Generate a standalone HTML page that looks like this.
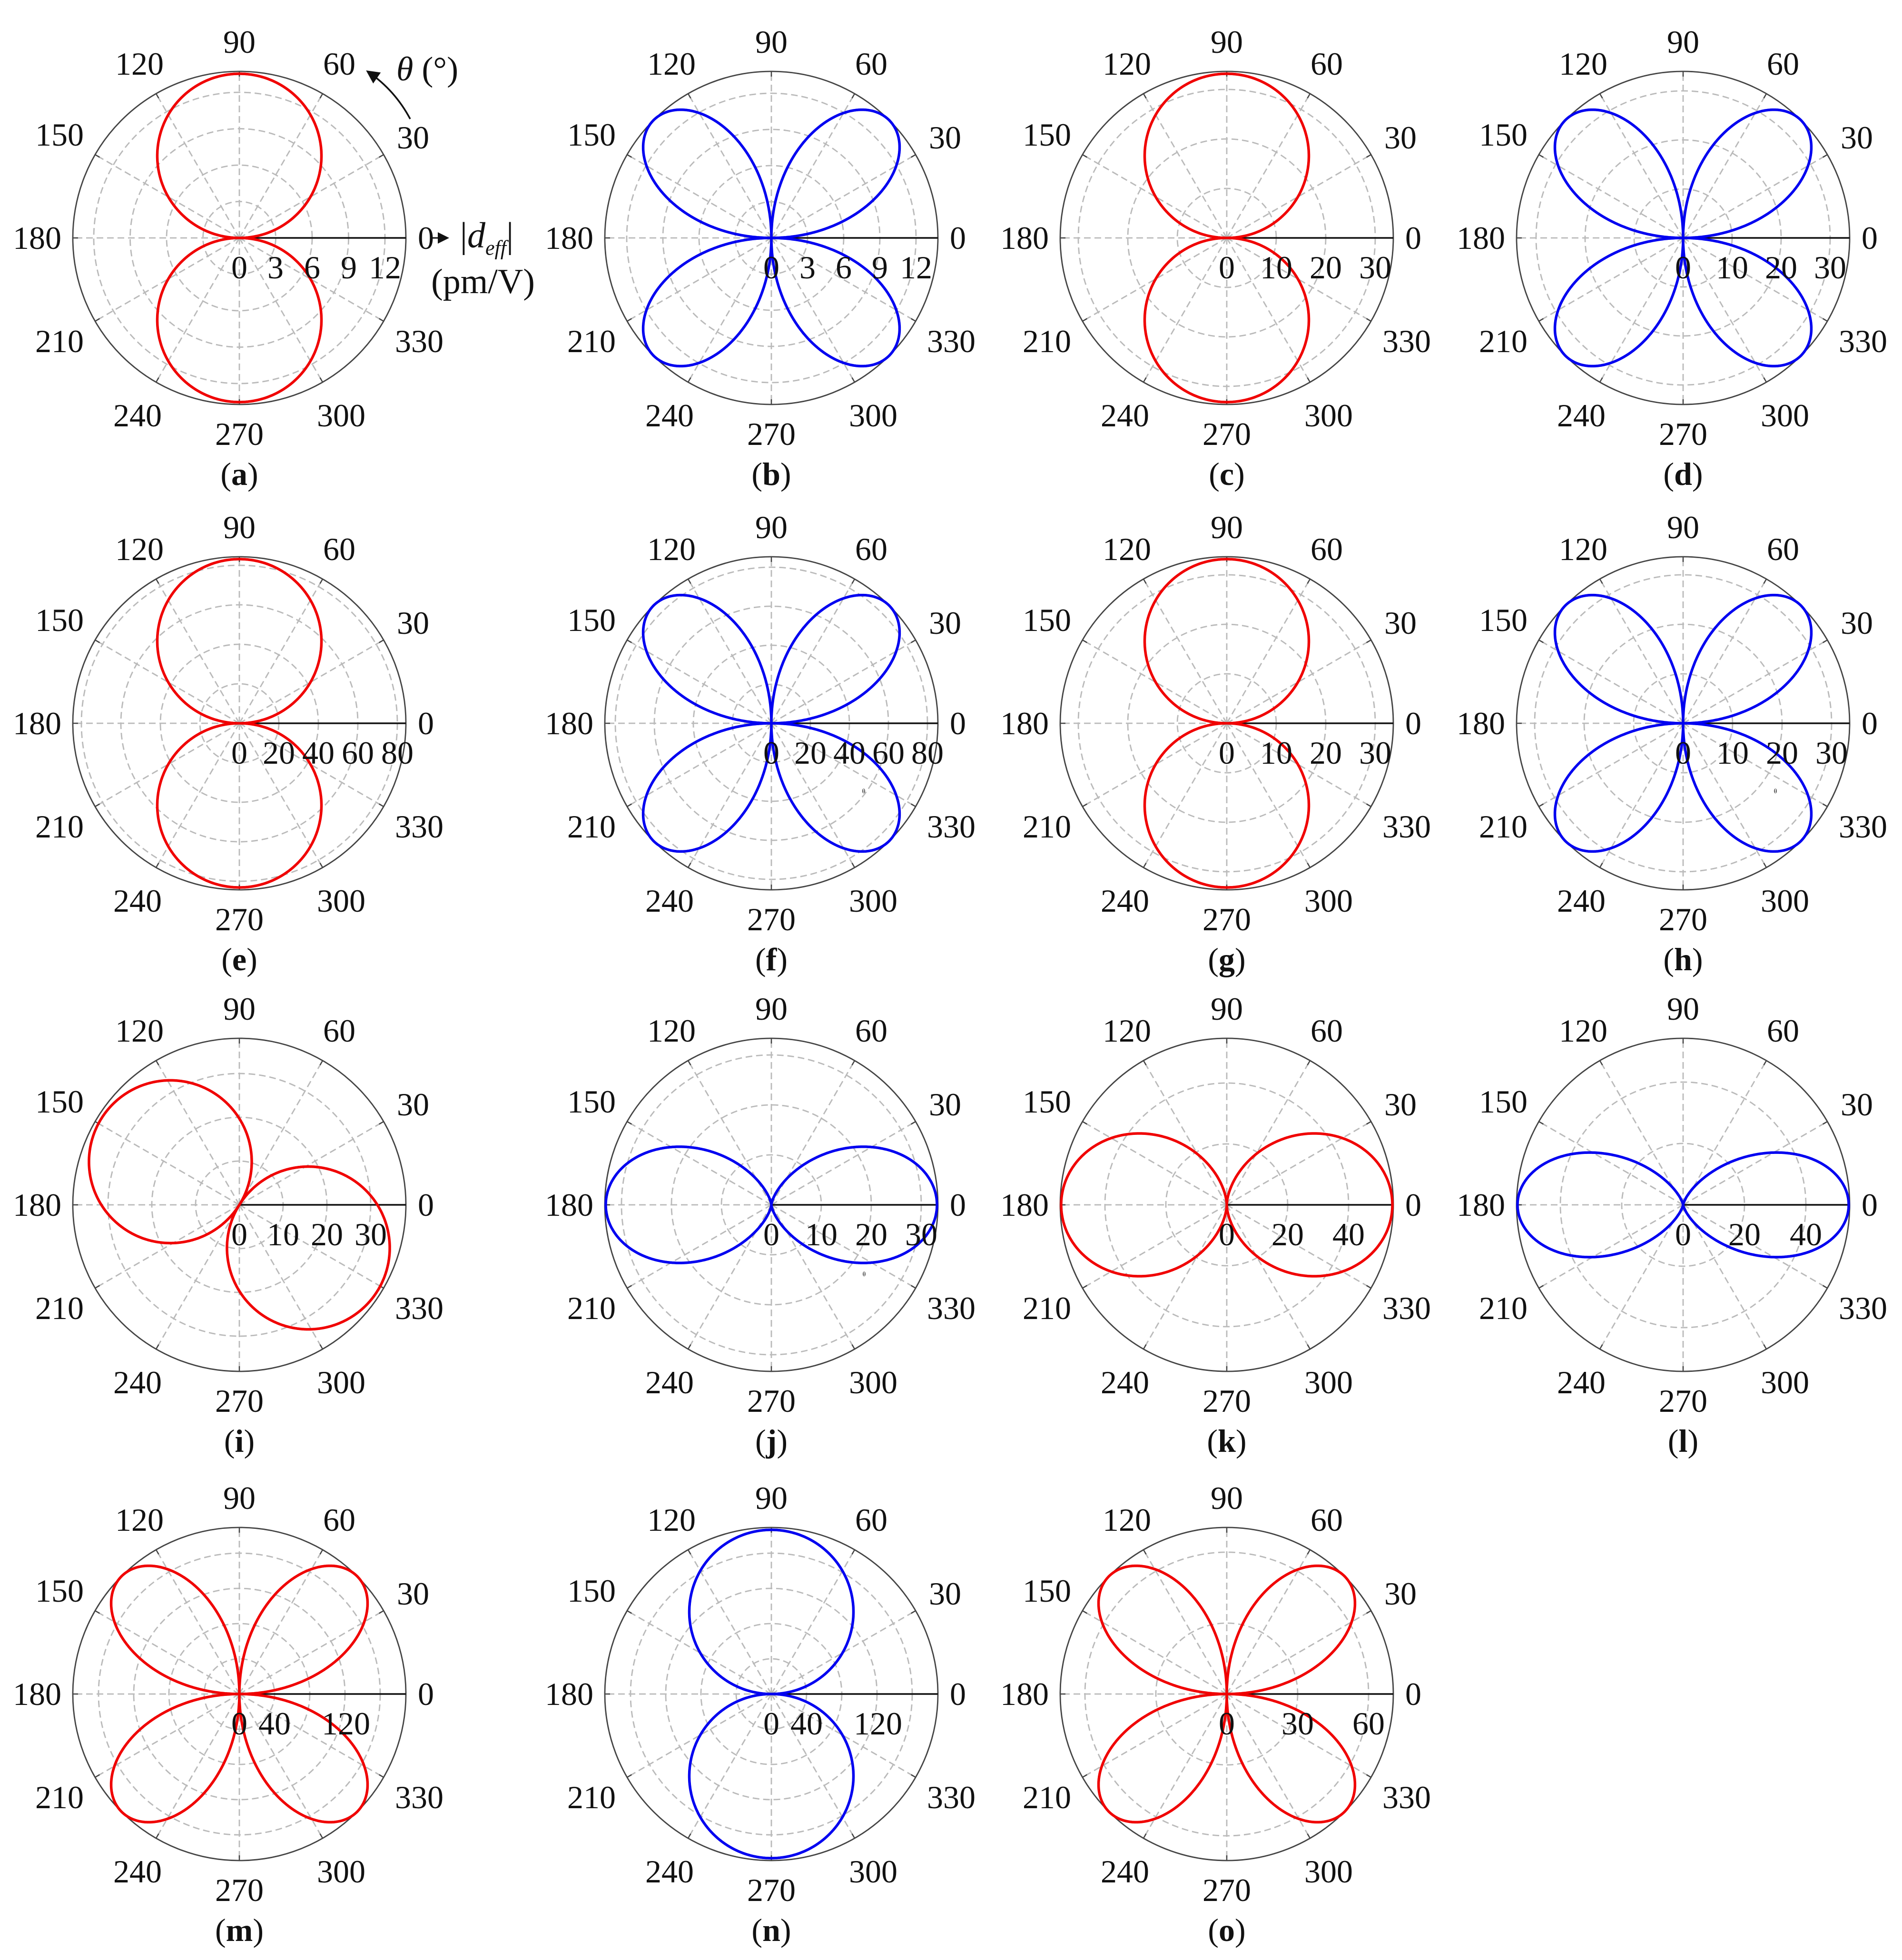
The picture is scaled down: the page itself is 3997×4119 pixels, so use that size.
<!DOCTYPE html>
<html><head><meta charset="utf-8">
<style>
html,body{margin:0;padding:0;background:#fff;}
body{width:3997px;height:4119px;position:relative;overflow:hidden;font-family:"Liberation Serif",serif;color:#111;}
svg{position:absolute;left:0;top:0;}
.p{position:absolute;width:0;height:0;font-size:68px;}
.p span{position:absolute;transform:translate(-50%,-50%);white-space:nowrap;line-height:1;}
.a0{left:392px;top:0}
.a30{left:365px;top:-211px}
.a60{left:210px;top:-366px}
.a90{left:0;top:-412px}
.a120{left:-210px;top:-366px}
.a150{left:-378px;top:-217px}
.a180{left:-425px;top:0}
.a210{left:-378px;top:217px}
.a240{left:-214px;top:373px}
.a270{left:0;top:412px}
.a300{left:214px;top:373px}
.a330{left:378px;top:217px}
.p span.t{top:62px}
.p span.lb{left:0;top:496px}
.p span.sm{font-size:14px}
</style></head><body>
<svg id="s" width="3997" height="4119" viewBox="0 0 3997 4119"></svg>

<!-- (a) -->
<div class="p" style="left:503px;top:500px">
<span class="a0">0</span><span class="a30">30</span><span class="a60">60</span><span class="a90">90</span><span class="a120">120</span><span class="a150">150</span><span class="a180">180</span><span class="a210">210</span><span class="a240">240</span><span class="a270">270</span><span class="a300">300</span><span class="a330">330</span>
<span class="t" style="left:0">0</span><span class="t" style="left:76px">3</span><span class="t" style="left:153px">6</span><span class="t" style="left:230px">9</span><span class="t" style="left:306px">12</span>
<span class="lb">(<b>a</b>)</span>
<span style="left:520px;top:0;font-size:76px">|<i>d<sub style="font-size:44px">eff</sub></i>|</span>
<span style="left:512px;top:92px;font-size:74px">(pm/V)</span>
<span style="left:395px;top:-355px;font-size:72px"><i>θ</i> (°)</span>
</div>
<!-- (b) -->
<div class="p" style="left:1621px;top:500px">
<span class="a0">0</span><span class="a30">30</span><span class="a60">60</span><span class="a90">90</span><span class="a120">120</span><span class="a150">150</span><span class="a180">180</span><span class="a210">210</span><span class="a240">240</span><span class="a270">270</span><span class="a300">300</span><span class="a330">330</span>
<span class="t" style="left:0">0</span><span class="t" style="left:76px">3</span><span class="t" style="left:152px">6</span><span class="t" style="left:228px">9</span><span class="t" style="left:304px">12</span>
<span class="lb">(<b>b</b>)</span>
</div>
<!-- (c) -->
<div class="p" style="left:2578px;top:500px">
<span class="a0">0</span><span class="a30">30</span><span class="a60">60</span><span class="a90">90</span><span class="a120">120</span><span class="a150">150</span><span class="a180">180</span><span class="a210">210</span><span class="a240">240</span><span class="a270">270</span><span class="a300">300</span><span class="a330">330</span>
<span class="t" style="left:0">0</span><span class="t" style="left:104px">10</span><span class="t" style="left:208px">20</span><span class="t" style="left:312px">30</span>
<span class="lb">(<b>c</b>)</span>
</div>
<!-- (d) -->
<div class="p" style="left:3537px;top:500px">
<span class="a0">0</span><span class="a30">30</span><span class="a60">60</span><span class="a90">90</span><span class="a120">120</span><span class="a150">150</span><span class="a180">180</span><span class="a210">210</span><span class="a240">240</span><span class="a270">270</span><span class="a300">300</span><span class="a330">330</span>
<span class="t" style="left:0">0</span><span class="t" style="left:103px">10</span><span class="t" style="left:206px">20</span><span class="t" style="left:309px">30</span>
<span class="lb">(<b>d</b>)</span>
</div>
<!-- (e) -->
<div class="p" style="left:503px;top:1520px">
<span class="a0">0</span><span class="a30">30</span><span class="a60">60</span><span class="a90">90</span><span class="a120">120</span><span class="a150">150</span><span class="a180">180</span><span class="a210">210</span><span class="a240">240</span><span class="a270">270</span><span class="a300">300</span><span class="a330">330</span>
<span class="t" style="left:0">0</span><span class="t" style="left:83px">20</span><span class="t" style="left:166px">40</span><span class="t" style="left:249px">60</span><span class="t" style="left:332px">80</span>
<span class="lb">(<b>e</b>)</span>
</div>
<!-- (f) -->
<div class="p" style="left:1621px;top:1520px">
<span class="a0">0</span><span class="a30">30</span><span class="a60">60</span><span class="a90">90</span><span class="a120">120</span><span class="a150">150</span><span class="a180">180</span><span class="a210">210</span><span class="a240">240</span><span class="a270">270</span><span class="a300">300</span><span class="a330">330</span>
<span class="t" style="left:0">0</span><span class="t" style="left:82px">20</span><span class="t" style="left:164px">40</span><span class="t" style="left:246px">60</span><span class="t" style="left:328px">80</span>
<span class="sm" style="left:194px;top:144px">θ</span>
<span class="lb">(<b>f</b>)</span>
</div>
<!-- (g) -->
<div class="p" style="left:2578px;top:1520px">
<span class="a0">0</span><span class="a30">30</span><span class="a60">60</span><span class="a90">90</span><span class="a120">120</span><span class="a150">150</span><span class="a180">180</span><span class="a210">210</span><span class="a240">240</span><span class="a270">270</span><span class="a300">300</span><span class="a330">330</span>
<span class="t" style="left:0">0</span><span class="t" style="left:104px">10</span><span class="t" style="left:208px">20</span><span class="t" style="left:312px">30</span>
<span class="lb">(<b>g</b>)</span>
</div>
<!-- (h) -->
<div class="p" style="left:3537px;top:1520px">
<span class="a0">0</span><span class="a30">30</span><span class="a60">60</span><span class="a90">90</span><span class="a120">120</span><span class="a150">150</span><span class="a180">180</span><span class="a210">210</span><span class="a240">240</span><span class="a270">270</span><span class="a300">300</span><span class="a330">330</span>
<span class="t" style="left:0">0</span><span class="t" style="left:104px">10</span><span class="t" style="left:208px">20</span><span class="t" style="left:312px">30</span>
<span class="sm" style="left:194px;top:144px">θ</span>
<span class="lb">(<b>h</b>)</span>
</div>
<!-- (i) -->
<div class="p" style="left:503px;top:2532px">
<span class="a0">0</span><span class="a30">30</span><span class="a60">60</span><span class="a90">90</span><span class="a120">120</span><span class="a150">150</span><span class="a180">180</span><span class="a210">210</span><span class="a240">240</span><span class="a270">270</span><span class="a300">300</span><span class="a330">330</span>
<span class="t" style="left:0">0</span><span class="t" style="left:92px">10</span><span class="t" style="left:184px">20</span><span class="t" style="left:276px">30</span>
<span class="lb">(<b>i</b>)</span>
</div>
<!-- (j) -->
<div class="p" style="left:1621px;top:2532px">
<span class="a0">0</span><span class="a30">30</span><span class="a60">60</span><span class="a90">90</span><span class="a120">120</span><span class="a150">150</span><span class="a180">180</span><span class="a210">210</span><span class="a240">240</span><span class="a270">270</span><span class="a300">300</span><span class="a330">330</span>
<span class="t" style="left:0">0</span><span class="t" style="left:105px">10</span><span class="t" style="left:210px">20</span><span class="t" style="left:315px">30</span>
<span class="sm" style="left:195px;top:147px">θ</span>
<span class="lb">(<b>j</b>)</span>
</div>
<!-- (k) -->
<div class="p" style="left:2578px;top:2532px">
<span class="a0">0</span><span class="a30">30</span><span class="a60">60</span><span class="a90">90</span><span class="a120">120</span><span class="a150">150</span><span class="a180">180</span><span class="a210">210</span><span class="a240">240</span><span class="a270">270</span><span class="a300">300</span><span class="a330">330</span>
<span class="t" style="left:0">0</span><span class="t" style="left:128px">20</span><span class="t" style="left:256px">40</span>
<span class="lb">(<b>k</b>)</span>
</div>
<!-- (l) -->
<div class="p" style="left:3537px;top:2532px">
<span class="a0">0</span><span class="a30">30</span><span class="a60">60</span><span class="a90">90</span><span class="a120">120</span><span class="a150">150</span><span class="a180">180</span><span class="a210">210</span><span class="a240">240</span><span class="a270">270</span><span class="a300">300</span><span class="a330">330</span>
<span class="t" style="left:0">0</span><span class="t" style="left:129px">20</span><span class="t" style="left:258px">40</span>
<span class="lb">(<b>l</b>)</span>
</div>
<!-- (m) -->
<div class="p" style="left:503px;top:3560px">
<span class="a0">0</span><span class="a30">30</span><span class="a60">60</span><span class="a90">90</span><span class="a120">120</span><span class="a150">150</span><span class="a180">180</span><span class="a210">210</span><span class="a240">240</span><span class="a270">270</span><span class="a300">300</span><span class="a330">330</span>
<span class="t" style="left:0">0</span><span class="t" style="left:74px">40</span><span class="t" style="left:224px">120</span>
<span class="lb">(<b>m</b>)</span>
</div>
<!-- (n) -->
<div class="p" style="left:1621px;top:3560px">
<span class="a0">0</span><span class="a30">30</span><span class="a60">60</span><span class="a90">90</span><span class="a120">120</span><span class="a150">150</span><span class="a180">180</span><span class="a210">210</span><span class="a240">240</span><span class="a270">270</span><span class="a300">300</span><span class="a330">330</span>
<span class="t" style="left:0">0</span><span class="t" style="left:74px">40</span><span class="t" style="left:224px">120</span>
<span class="lb">(<b>n</b>)</span>
</div>
<!-- (o) -->
<div class="p" style="left:2578px;top:3560px">
<span class="a0">0</span><span class="a30">30</span><span class="a60">60</span><span class="a90">90</span><span class="a120">120</span><span class="a150">150</span><span class="a180">180</span><span class="a210">210</span><span class="a240">240</span><span class="a270">270</span><span class="a300">300</span><span class="a330">330</span>
<span class="t" style="left:0">0</span><span class="t" style="left:149px">30</span><span class="t" style="left:298px">60</span>
<span class="lb">(<b>o</b>)</span>
</div>

<script>
(function(){
var R=350, RED="#f00000", BLUE="#0000f0";
var plots=[
[503,500,76.5,'s1',RED],[1621,500,76,'s2',BLUE],[2578,500,104,'s1',RED],[3537,500,103,'s2',BLUE],
[503,1520,83,'s1',RED],[1621,1520,82,'s2',BLUE],[2578,1520,104,'s1',RED],[3537,1520,104,'s2',BLUE],
[503,2532,92,'ci',RED],[1621,2532,105,'c2.5',BLUE],[2578,2532,128,'c1.5',RED],[3537,2532,129,'c3.2',BLUE],
[503,3560,74,'s2',RED],[1621,3560,74,'s1',BLUE],[2578,3560,149,'s2',RED]
];
var out=[];
out.push('<defs><marker id="ah" markerWidth="8" markerHeight="8" refX="6" refY="4" orient="auto" markerUnits="strokeWidth"><path d="M0,0 L8,4 L0,8 z" fill="#111"/></marker></defs>');
plots.forEach(function(p){
  var cx=p[0],cy=p[1],st=p[2],ty=p[3],col=p[4];
  var g='';
  for(var r=st;r<R-8;r+=st){
    g+='<circle cx="'+cx+'" cy="'+cy+'" r="'+r.toFixed(1)+'" fill="none" stroke="#bababa" stroke-width="2.8" stroke-dasharray="14 8"/>';
  }
  for(var a=0;a<360;a+=30){
    var t=a*Math.PI/180, c=Math.cos(t), s=Math.sin(t);
    if(a!==0) g+='<line x1="'+cx+'" y1="'+cy+'" x2="'+(cx+R*c).toFixed(1)+'" y2="'+(cy-R*s).toFixed(1)+'" stroke="#bababa" stroke-width="2.8" stroke-dasharray="14 8"/>';
    g+='<line x1="'+(cx+(R-11)*c).toFixed(1)+'" y1="'+(cy-(R-11)*s).toFixed(1)+'" x2="'+(cx+R*c).toFixed(1)+'" y2="'+(cy-R*s).toFixed(1)+'" stroke="#444" stroke-width="2.5"/>';
  }
  g+='<circle cx="'+cx+'" cy="'+cy+'" r="'+R+'" fill="none" stroke="#444" stroke-width="2.8"/>';
  g+='<line x1="'+cx+'" y1="'+cy+'" x2="'+(cx+R)+'" y2="'+cy+'" stroke="#111" stroke-width="3.5"/>';
  var d='';
  for(var i=0;i<=1440;i++){
    var th=i/1440*2*Math.PI, r;
    if(ty==='s1') r=345*Math.abs(Math.sin(th));
    else if(ty==='s2') r=350*Math.abs(Math.sin(2*th));
    else if(ty==='ci') r=342*Math.abs(Math.cos(th-148*Math.PI/180));
    else { var pw=parseFloat(ty.slice(1)); r=348*Math.pow(Math.abs(Math.cos(th)),pw); }
    var x=cx+r*Math.cos(th), y=cy-r*Math.sin(th);
    d+=(i?'L':'M')+x.toFixed(1)+','+y.toFixed(1);
  }
  g+='<path d="'+d+'" fill="none" stroke="'+col+'" stroke-width="5.5" stroke-linejoin="round"/>';
  out.push(g);
});
out.push('<line x1="905" y1="500" x2="938" y2="500" stroke="#111" stroke-width="3" marker-end="url(#ah)"/>');
out.push('<path d="M862,250 Q830,190 775,152" fill="none" stroke="#111" stroke-width="3.5" marker-end="url(#ah)"/>');
document.getElementById('s').innerHTML=out.join('');
})();
</script>
</body></html>
